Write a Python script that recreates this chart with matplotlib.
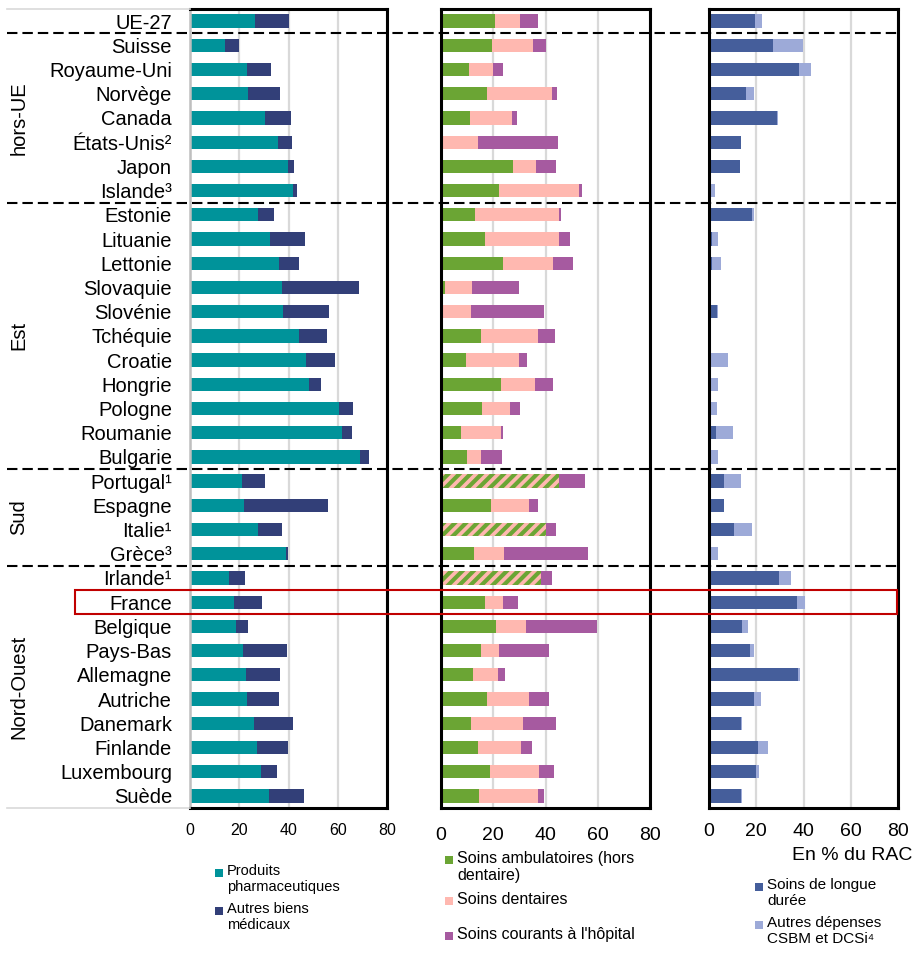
import numpy as np
import matplotlib
matplotlib.use("Agg")
import matplotlib.pyplot as plt
from matplotlib.patches import Rectangle
from matplotlib.lines import Line2D
from matplotlib.transforms import blended_transform_factory

plt.rcParams['font.family'] = ['Liberation Sans', 'DejaVu Sans']
plt.rcParams['hatch.linewidth'] = 3.0

countries = ["UE-27", "Suisse", "Royaume-Uni", "Norvège", "Canada", "États-Unis²", "Japon", "Islande³",
             "Estonie", "Lituanie", "Lettonie", "Slovaquie", "Slovénie", "Tchéquie", "Croatie", "Hongrie",
             "Pologne", "Roumanie", "Bulgarie", "Portugal¹", "Espagne", "Italie¹", "Grèce³",
             "Irlande¹", "France", "Belgique", "Pays-Bas", "Allemagne", "Autriche", "Danemark",
             "Finlande", "Luxembourg", "Suède"]

groups = ["hors-UE", "Est", "Sud", "Nord-Ouest"]
group_sizes = [7, 11, 4, 10]

# panneau 1 : biens medicaux
pharma = [26.5, 14.1, 23.2, 23.6, 30.3, 35.7, 39.7, 41.8, 27.5, 32.5, 36.1, 37.4, 37.8, 44.4, 47.1, 48.4,
          60.7, 61.7, 69.0, 21.1, 21.8, 27.7, 39.1, 16.0, 18.0, 18.5, 21.4, 22.8, 23.3, 26.0, 27.3, 29.0, 32.1]
autres_biens = [13.6, 5.7, 9.5, 12.8, 10.8, 5.8, 2.6, 1.7, 6.8, 14.2, 8.1, 31.3, 18.5, 11.4, 11.6, 4.7,
                5.3, 4.0, 3.5, 9.5, 34.2, 9.6, 0.8, 6.2, 11.2, 5.1, 17.8, 13.8, 12.9, 15.8, 12.6, 6.3, 14.0]

# panneau 2 : soins
ambulatoire = [20.8, 19.6, 10.7, 17.6, 11.1, 0.0, 27.5, 22.3, 13.0, 16.8, 23.7, 1.7, 0.0, 15.3, 9.7, 23.1,
               15.6, 7.6, 9.9, 0.0, 19.2, 0.0, 12.6, 0.0, 16.8, 21.0, 15.3, 12.1, 17.5, 11.5, 14.0, 18.7, 14.5]
dentaire = [9.4, 15.8, 9.3, 25.0, 16.2, 14.3, 9.0, 30.6, 32.0, 28.5, 19.1, 10.2, 11.3, 21.8, 20.3, 12.8,
            10.9, 15.2, 5.5, 0.0, 14.6, 0.0, 11.4, 0.0, 6.8, 11.6, 6.9, 9.8, 16.2, 20.0, 16.7, 18.8, 22.7]
hopital = [6.9, 4.6, 3.6, 1.8, 1.9, 30.6, 7.7, 0.9, 1.0, 3.9, 7.7, 18.1, 28.0, 6.6, 2.8, 7.1,
           3.8, 0.8, 7.9, 10.0, 3.3, 4.2, 32.1, 4.1, 5.7, 27.1, 19.1, 2.7, 7.6, 12.7, 4.0, 5.8, 2.4]
# ambulatoire + dentaire non separables
hatched_countries = ["Portugal¹", "Italie¹", "Irlande¹"]
hatched_values = [45.3, 40.0, 38.2]

# panneau 3 : longue duree et autres
longue_duree = [19.4, 27.3, 38.2, 15.6, 28.7, 13.5, 13.2, 0.0, 18.2, 1.4, 1.4, 0.0, 3.2, 0.3, 0.5, 0.4,
                0.2, 2.8, 0.2, 6.2, 6.3, 10.6, 0.3, 29.6, 37.2, 13.9, 17.2, 37.7, 18.9, 13.7, 20.7, 19.9, 13.5]
autres_dep = [3.0, 12.4, 4.9, 3.3, 0.7, 0.2, 0.1, 2.5, 1.0, 2.5, 3.7, 1.0, 0.7, 0.0, 7.7, 3.3,
              3.2, 7.3, 3.6, 7.5, 0.1, 7.6, 3.5, 5.2, 3.6, 2.7, 2.0, 0.8, 3.2, 0.2, 4.4, 1.1, 0.6]

xticks = [0, 20, 40, 60, 80]

W, H = 918, 957
TOP, BOT = 9, 808
fig = plt.figure(figsize=(W / 100, H / 100), dpi=100)


def panel(left, right):
    ax = fig.add_axes([left / W, 1 - BOT / H, (right - left) / W, (BOT - TOP) / H])
    ax.set_xlim(0, 80)
    ax.set_ylim(len(countries) - 0.5, -0.5)
    ax.set_xticks(xticks)
    ax.set_axisbelow(True)
    ax.xaxis.grid(True, color="#D9D9D9", lw=1.6)
    for s in ax.spines.values():
        s.set_color("black")
        s.set_linewidth(2.2)
    return ax


y = np.arange(len(countries))
bh = 0.55

ax1 = panel(190, 387)
ax1.barh(y, pharma, height=bh, color="#00939A", lw=0)
ax1.barh(y, autres_biens, left=pharma, height=bh, color="#323F78", lw=0)
ax1.set_yticks(y)
ax1.set_yticklabels(countries, fontsize=14.5)
ax1.tick_params(axis="y", length=0, pad=13)
ax1.tick_params(axis="x", length=0, pad=11, labelsize=11.5)
ax1.spines["left"].set_color("#BFBFBF")
ax1.spines["left"].set_linewidth(1.8)

ax2 = panel(441, 650)
amb = np.array(ambulatoire)
den = np.array(dentaire)
ax2.barh(y, amb, height=bh, color="#6BA534", lw=0)
ax2.barh(y, den, left=amb, height=bh, color="#FFB8B0", lw=0)
hy = [countries.index(c) for c in hatched_countries]
ax2.barh(hy, hatched_values, height=bh, color="#FFB8B0", edgecolor="#6BA534", hatch="///", lw=0)
base = amb + den
for i, c in zip(hy, hatched_values):
    base[i] = c
ax2.barh(y, hopital, left=base, height=bh, color="#A65AA0", lw=0)
ax2.set_yticks([])
ax2.tick_params(axis="x", length=0, pad=14, labelsize=14)

ax3 = panel(709, 898)
ax3.barh(y, longue_duree, height=bh, color="#455E9B", lw=0)
ax3.barh(y, autres_dep, left=longue_duree, height=bh, color="#9DAAD8", lw=0)
ax3.set_yticks([])
ax3.tick_params(axis="x", length=0, pad=11, labelsize=14)
fig.text(912 / W, 1 - 855 / H, "En % du RAC", fontsize=14, ha="right", va="center")

# separateurs de groupes et cadre France
tr = blended_transform_factory(fig.transFigure, ax1.transData)
bounds = np.cumsum([1] + group_sizes)[:-1] - 0.5
for b in bounds:
    fig.add_artist(Line2D([7 / W, 897 / W], [b, b], transform=tr, color="black", lw=1.5, dashes=(5, 2.4)))
fr = countries.index("France")
fig.add_artist(Rectangle((75 / W, fr - 0.5), (897 - 75) / W, 1.0, transform=tr, fill=False,
                         ec="#C00000", lw=1.5))
for yy in (-0.5, len(countries) - 0.5):
    fig.add_artist(Line2D([7 / W, 190 / W], [yy, yy], transform=tr, color="#D9D9D9", lw=1.2))

start = 1
for g, n in zip(groups, group_sizes):
    fig.text(19 / W, start + (n - 1) / 2, g, transform=tr, fontsize=14.5, rotation=90,
             ha="center", va="center")
    start += n

# legendes
legend_items = [
    (219, 873, "#00939A", "Produits\npharmaceutiques", 10.5),
    (219, 911, "#323F78", "Autres biens\nmédicaux", 10.5),
    (449, 860, "#6BA534", "Soins ambulatoires (hors\ndentaire)", 11.5),
    (449, 901, "#FFB8B0", "Soins dentaires", 11.5),
    (449, 936, "#A65AA0", "Soins courants à l'hôpital", 11.5),
    (759, 887, "#455E9B", "Soins de longue\ndurée", 11),
    (759, 925, "#9DAAD8", "Autres dépenses\nCSBM et DCSi⁴", 11),
]
for mx, my, col, lab, fs in legend_items:
    fig.add_artist(Rectangle(((mx - 4) / W, 1 - (my + 4) / H), 8 / W, 8 / H, transform=fig.transFigure,
                             color=col, lw=0))
    fig.text((mx + 8) / W, 1 - (my - 9) / H, lab, fontsize=fs, ha="left", va="top", linespacing=1.2)

fig.savefig("out.png", dpi=100)
